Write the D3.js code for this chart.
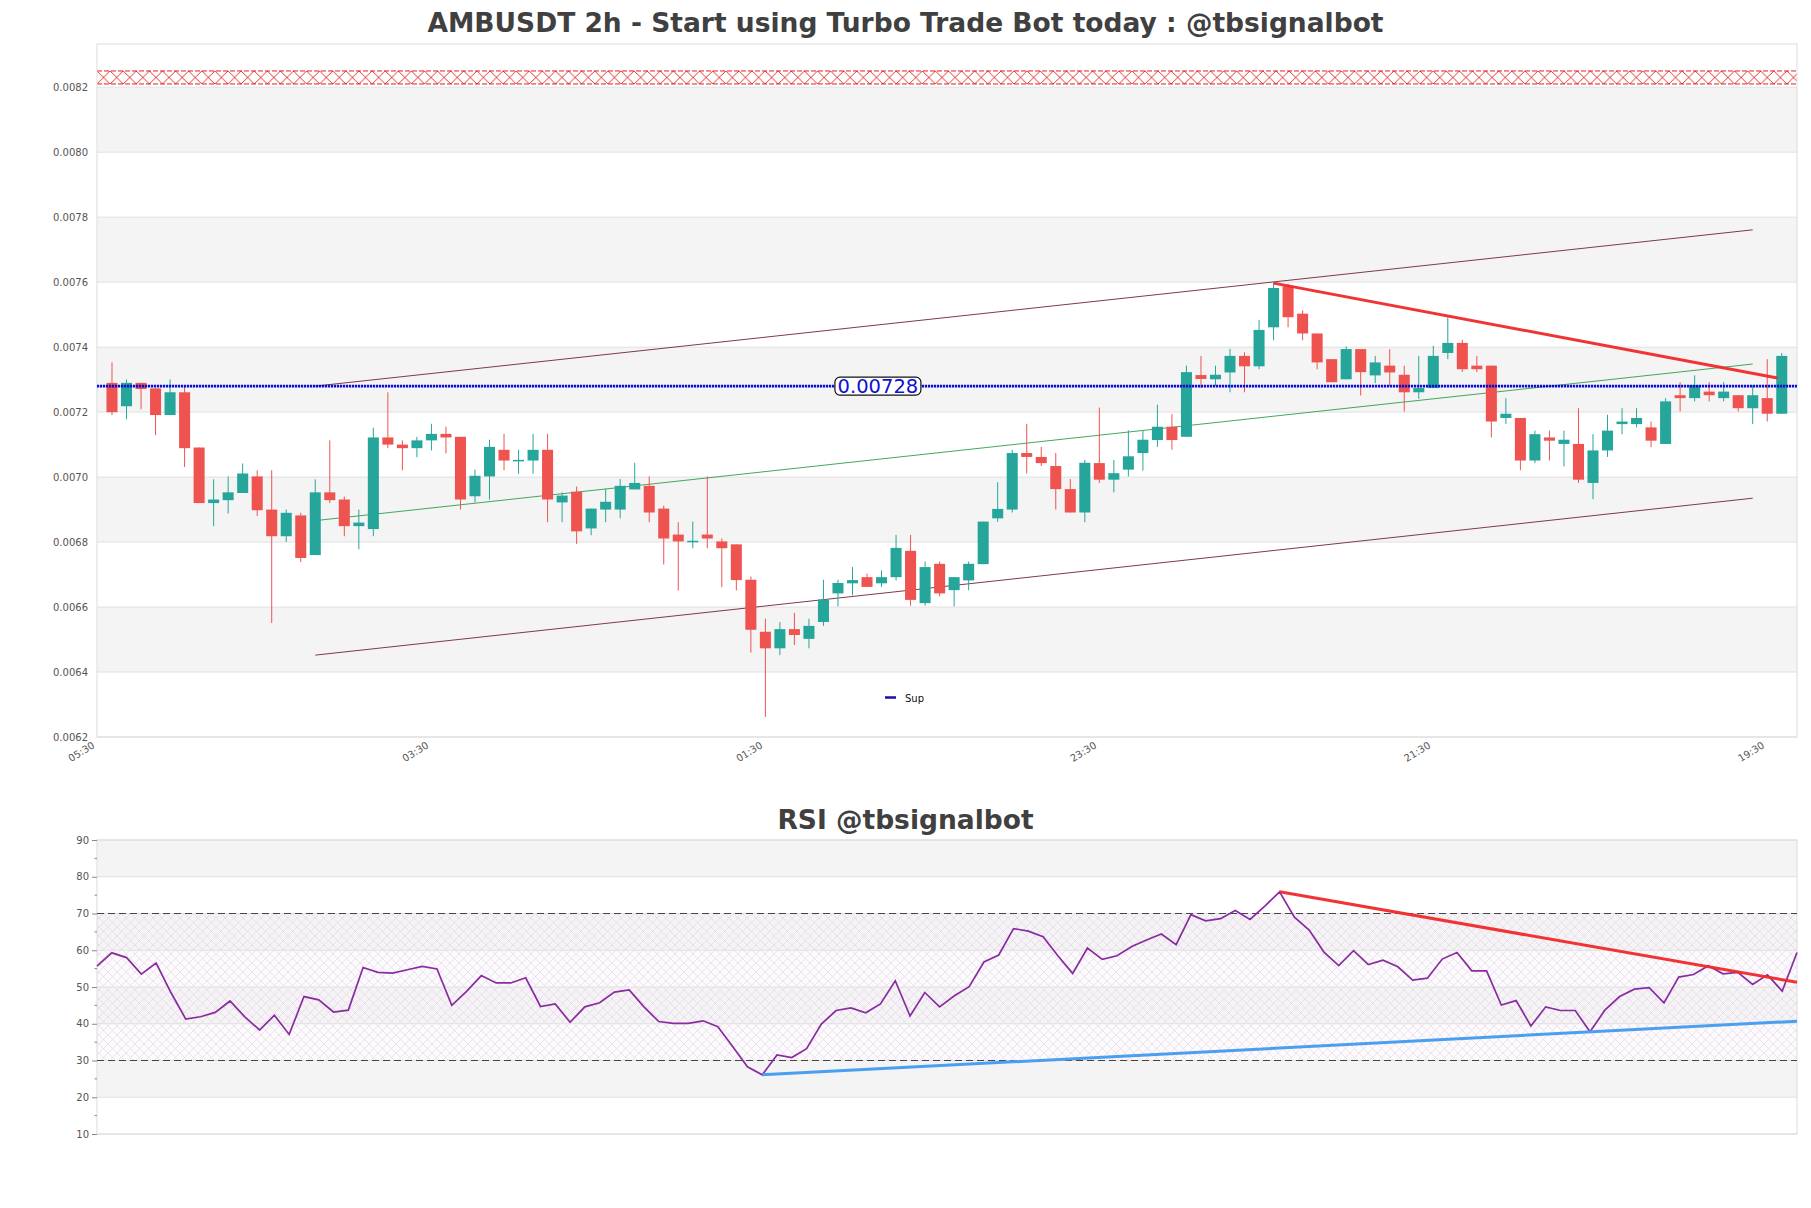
<!DOCTYPE html>
<html>
<head>
<meta charset="utf-8">
<script src="https://cdn.jsdelivr.net/npm/d3@7"></script>
<style>
  body { margin: 0; background: #ffffff; }
  svg text { font-family: "DejaVu Sans", sans-serif; }
</style>
</head>
<body>
<div id="chart"></div>
<script>
// ---- candle data (2h candles, oldest first) ----
var opens = [
  0.007290, 0.007218, 0.007290, 0.007273, 0.007191, 0.007261, 0.007091, 0.006920, 0.006929, 0.006951,
  0.007002, 0.006900, 0.006818, 0.006882, 0.006760, 0.006953, 0.006931, 0.006849, 0.006840, 0.007122,
  0.007100, 0.007089, 0.007113, 0.007133, 0.007124, 0.006941, 0.007002, 0.007084, 0.007051, 0.007051,
  0.007084, 0.006922, 0.006955, 0.006842, 0.006900, 0.006900, 0.006962, 0.006973, 0.006903, 0.006823,
  0.006802, 0.006823, 0.006802, 0.006793, 0.006684, 0.006524, 0.006473, 0.006532, 0.006502, 0.006554,
  0.006642, 0.006673, 0.006692, 0.006673, 0.006692, 0.006773, 0.006612, 0.006733, 0.006652, 0.006682,
  0.006732, 0.006873, 0.006900, 0.007074, 0.007062, 0.007034, 0.006963, 0.006891, 0.007043, 0.006992,
  0.007023, 0.007074, 0.007114, 0.007155, 0.007124, 0.007314, 0.007301, 0.007322, 0.007373, 0.007341,
  0.007461, 0.007587, 0.007503, 0.007442, 0.007363, 0.007301, 0.007394, 0.007313, 0.007343, 0.007315,
  0.007261, 0.007274, 0.007382, 0.007413, 0.007343, 0.007343, 0.007182, 0.007182, 0.007051, 0.007122,
  0.007102, 0.007102, 0.006982, 0.007082, 0.007163, 0.007163, 0.007153, 0.007102, 0.007252, 0.007243,
  0.007263, 0.007243, 0.007252, 0.007212, 0.007243, 0.007195];
var highs = [
  0.007353, 0.007300, 0.007290, 0.007273, 0.007300, 0.007280, 0.007091, 0.006993, 0.007002, 0.007042,
  0.007021, 0.007021, 0.006900, 0.006890, 0.006993, 0.007113, 0.006940, 0.006900, 0.007152, 0.007261,
  0.007113, 0.007124, 0.007164, 0.007155, 0.007124, 0.007023, 0.007115, 0.007133, 0.007084, 0.007133,
  0.007133, 0.006953, 0.006971, 0.006903, 0.006964, 0.006994, 0.007044, 0.007002, 0.006912, 0.006861,
  0.006863, 0.007002, 0.006811, 0.006793, 0.006694, 0.006564, 0.006554, 0.006582, 0.006564, 0.006684,
  0.006684, 0.006723, 0.006703, 0.006713, 0.006822, 0.006822, 0.006740, 0.006740, 0.006692, 0.006740,
  0.006863, 0.006984, 0.007084, 0.007164, 0.007093, 0.007074, 0.006994, 0.007053, 0.007214, 0.007053,
  0.007144, 0.007144, 0.007223, 0.007194, 0.007343, 0.007373, 0.007343, 0.007395, 0.007384, 0.007484,
  0.007597, 0.007595, 0.007513, 0.007442, 0.007363, 0.007402, 0.007394, 0.007373, 0.007394, 0.007343,
  0.007373, 0.007404, 0.007492, 0.007423, 0.007373, 0.007343, 0.007243, 0.007182, 0.007143, 0.007143,
  0.007143, 0.007212, 0.007132, 0.007192, 0.007212, 0.007212, 0.007171, 0.007243, 0.007292, 0.007313,
  0.007292, 0.007292, 0.007252, 0.007283, 0.007363, 0.007382];
var lows = [
  0.007191, 0.007178, 0.007209, 0.007129, 0.007191, 0.007031, 0.006920, 0.006849, 0.006888, 0.006951,
  0.006880, 0.006551, 0.006800, 0.006738, 0.006760, 0.006920, 0.006818, 0.006778, 0.006818, 0.007089,
  0.007021, 0.007061, 0.007082, 0.007073, 0.006900, 0.006922, 0.006931, 0.007021, 0.007010, 0.007010,
  0.006861, 0.006861, 0.006794, 0.006821, 0.006861, 0.006873, 0.006962, 0.006861, 0.006731, 0.006651,
  0.006781, 0.006781, 0.006661, 0.006651, 0.006460, 0.006262, 0.006452, 0.006483, 0.006473, 0.006542,
  0.006602, 0.006636, 0.006662, 0.006662, 0.006682, 0.006604, 0.006604, 0.006633, 0.006602, 0.006652,
  0.006732, 0.006862, 0.006891, 0.007011, 0.007034, 0.006900, 0.006891, 0.006861, 0.006982, 0.006953,
  0.007002, 0.007020, 0.007093, 0.007084, 0.007124, 0.007274, 0.007281, 0.007261, 0.007261, 0.007332,
  0.007421, 0.007461, 0.007421, 0.007332, 0.007292, 0.007301, 0.007251, 0.007289, 0.007281, 0.007202,
  0.007241, 0.007274, 0.007363, 0.007323, 0.007323, 0.007122, 0.007163, 0.007021, 0.007043, 0.007051,
  0.007033, 0.006982, 0.006932, 0.007062, 0.007132, 0.007153, 0.007092, 0.007102, 0.007202, 0.007233,
  0.007233, 0.007233, 0.007202, 0.007163, 0.007171, 0.007195];
var closes = [
  0.007200, 0.007290, 0.007271, 0.007191, 0.007261, 0.007089, 0.006920, 0.006931, 0.006953, 0.007011,
  0.006898, 0.006818, 0.006890, 0.006751, 0.006953, 0.006929, 0.006849, 0.006860, 0.007122, 0.007100,
  0.007089, 0.007113, 0.007133, 0.007122, 0.006931, 0.007004, 0.007093, 0.007051, 0.007053, 0.007084,
  0.006931, 0.006943, 0.006833, 0.006903, 0.006924, 0.006973, 0.006982, 0.006891, 0.006811, 0.006802,
  0.006804, 0.006811, 0.006781, 0.006683, 0.006530, 0.006473, 0.006532, 0.006514, 0.006542, 0.006623,
  0.006674, 0.006683, 0.006662, 0.006692, 0.006782, 0.006622, 0.006723, 0.006642, 0.006692, 0.006733,
  0.006863, 0.006902, 0.007074, 0.007062, 0.007043, 0.006963, 0.006891, 0.007044, 0.006992, 0.007012,
  0.007064, 0.007115, 0.007155, 0.007114, 0.007323, 0.007302, 0.007315, 0.007373, 0.007341, 0.007453,
  0.007582, 0.007492, 0.007442, 0.007353, 0.007292, 0.007394, 0.007323, 0.007353, 0.007322, 0.007261,
  0.007274, 0.007373, 0.007413, 0.007332, 0.007332, 0.007171, 0.007195, 0.007051, 0.007132, 0.007112,
  0.007115, 0.006992, 0.007082, 0.007143, 0.007171, 0.007182, 0.007112, 0.007233, 0.007243, 0.007283,
  0.007252, 0.007263, 0.007212, 0.007252, 0.007195, 0.007373];

// ---- axis ticks ----
var timeTickIndex = [-1, 22, 45, 68, 91, 114];
var timeTickLabels = ["05:30", "03:30", "01:30", "23:30", "21:30", "19:30"];
var priceTicks = [0.0062, 0.0064, 0.0066, 0.0068, 0.0070, 0.0072, 0.0074, 0.0076, 0.0078, 0.0080, 0.0082];
var rsiTicks = [10, 20, 30, 40, 50, 60, 70, 80, 90];
var rsiMinorTicks = [15, 25, 35, 45, 55, 65, 75, 85];

// ---- annotations on the price chart ----
var supLevel = 0.00728;
var resistZone = [0.00821, 0.00825];
var channelUpper = [[14, 0.007280], [113, 0.007761]];
var channelLower = [[14, 0.006452], [113, 0.006935]];
var channelMid = [[14, 0.006866], [113, 0.007348]];
var priceTrend = [[80, 0.007597], [114.7, 0.007305]];

// ---- RSI ----
var rsiValues = [
  55.7, 59.3, 58.0, 53.5, 56.5, 48.5, 41.3, 41.9, 43.1, 46.2,
  41.9, 38.3, 42.3, 37.1, 47.4, 46.5, 43.2, 43.7, 55.3, 54.0,
  53.8, 54.7, 55.6, 54.9, 45.0, 48.8, 53.1, 51.1, 51.1, 52.5,
  44.7, 45.4, 40.4, 44.6, 45.7, 48.6, 49.2, 44.6, 40.6, 40.1,
  40.1, 40.8, 39.2, 33.8, 28.3, 26.1, 31.5, 30.8, 33.2, 39.9,
  43.6, 44.3, 43.0, 45.4, 51.7, 42.1, 48.5, 44.6, 47.6, 50.1,
  56.8, 58.7, 65.9, 65.2, 63.7, 58.5, 53.7, 60.6, 57.5, 58.5,
  61.0, 62.8, 64.4, 61.5, 69.7, 68.0, 68.6, 70.8, 68.4, 72.0,
  75.9, 69.0, 65.5, 59.5, 55.8, 59.9, 56.1, 57.3, 55.5, 51.9,
  52.4, 57.6, 59.4, 54.4, 54.4, 45.1, 46.3, 39.4, 44.6, 43.6,
  43.6, 37.8, 43.7, 47.4, 49.4, 49.8, 45.7, 52.7, 53.4, 55.8,
  53.6, 54.0, 50.7, 53.3, 48.9, 59.4];
var rsiDown = [[80, 75.9], [115, 51.3]];
var rsiUp = [[45, 26.1], [115, 40.7]];

// ---- layout ----
var W = 1811, H = 1208;
var pm = {left: 97, right: 1797, top: 44, bottom: 737};   // price panel
var rm = {left: 97, right: 1797, top: 840, bottom: 1134}; // rsi panel
var upColor = "#26a69a", downColor = "#ef5350";

var svg = d3.select("#chart").append("svg")
  .attr("width", W)
  .attr("height", H);

var defs = svg.append("defs");

var x = d3.scaleLinear().domain([-1.033, 116.05]).range([pm.left, pm.right]);
var y = d3.scaleLinear().domain([0.0062, 0.008333]).range([pm.bottom, pm.top]);

// red cross hatch for the resistance zone
var zoneTop = y(resistZone[1]), zoneBot = y(resistZone[0]);
var zh = zoneBot - zoneTop;
var rp = defs.append("pattern")
  .attr("id", "redHatch")
  .attr("patternUnits", "userSpaceOnUse")
  .attr("x", pm.left).attr("y", zoneTop)
  .attr("width", 13.1).attr("height", zh);
rp.append("rect").attr("width", 13.1).attr("height", zh).attr("fill", "#ffffff");
rp.append("path")
  .attr("d", "M0,0L13.1," + zh + "M13.1,0L0," + zh)
  .attr("stroke", "#e02020").attr("stroke-width", 0.9).attr("fill", "none");

// pale hatch for the rsi 30-70 zone
var pp = defs.append("pattern")
  .attr("id", "rsiHatch")
  .attr("patternUnits", "userSpaceOnUse")
  .attr("width", 9).attr("height", 9);
pp.append("path")
  .attr("d", "M0,0L9,9M9,0L0,9")
  .attr("stroke", "#d6c9dc").attr("stroke-width", 0.6).attr("fill", "none")
  .attr("opacity", 0.75);

/* ---------------- price panel ---------------- */
var price = svg.append("g").attr("class", "price");

// alternating bands
for (var i = 0; i < priceTicks.length - 1; i++) {
  if (i % 2 == 1) {
    price.append("rect")
      .attr("x", pm.left)
      .attr("y", y(priceTicks[i + 1]))
      .attr("width", pm.right - pm.left)
      .attr("height", y(priceTicks[i]) - y(priceTicks[i + 1]))
      .attr("fill", "#f4f4f4");
  }
}
price.selectAll("line.grid")
  .data(priceTicks)
  .enter()
  .append("line")
  .attr("class", "grid")
  .attr("x1", pm.left).attr("x2", pm.right)
  .attr("y1", function(d) { return y(d); })
  .attr("y2", function(d) { return y(d); })
  .attr("stroke", "#e1e1e1").attr("stroke-width", 1);

// resistance zone
price.append("rect")
  .attr("x", pm.left).attr("y", zoneTop)
  .attr("width", pm.right - pm.left).attr("height", zh)
  .attr("fill", "url(#redHatch)");
price.append("path")
  .attr("d", "M" + pm.left + "," + zoneTop + "H" + pm.right + "M" + pm.left + "," + zoneBot + "H" + pm.right)
  .attr("stroke", "#e02020").attr("stroke-width", 1).attr("stroke-dasharray", "5,2");

// frame
price.append("rect")
  .attr("x", pm.left).attr("y", pm.top)
  .attr("width", pm.right - pm.left).attr("height", pm.bottom - pm.top)
  .attr("fill", "none").attr("stroke", "#dcdcdc").attr("stroke-width", 1);

var seg = d3.line()
  .x(function(d) { return x(d[0]); })
  .y(function(d) { return y(d[1]); });

// channel
price.append("path").attr("d", seg(channelUpper))
  .attr("stroke", "#7d3b4b").attr("stroke-width", 1).attr("fill", "none");
price.append("path").attr("d", seg(channelLower))
  .attr("stroke", "#7d3b4b").attr("stroke-width", 1).attr("fill", "none");
price.append("path").attr("d", seg(channelMid))
  .attr("stroke", "#2f9e48").attr("stroke-width", 0.9).attr("fill", "none");

// candles
var candles = opens.map(function(o, i) {
  return {i: i, o: o, h: highs[i], l: lows[i], c: closes[i]};
});
var bodyW = (x(1) - x(0)) * 0.76;
var cg = price.append("g").attr("class", "candles");
cg.selectAll("line.wick")
  .data(candles)
  .enter()
  .append("line")
  .attr("class", "wick")
  .attr("x1", function(d) { return x(d.i); })
  .attr("x2", function(d) { return x(d.i); })
  .attr("y1", function(d) { return y(d.h); })
  .attr("y2", function(d) { return y(d.l); })
  .attr("stroke", function(d) { return d.c >= d.o ? upColor : downColor; })
  .attr("stroke-width", 1);
cg.selectAll("rect.body")
  .data(candles)
  .enter()
  .append("rect")
  .attr("class", "body")
  .attr("x", function(d) { return x(d.i) - bodyW / 2; })
  .attr("y", function(d) { return y(Math.max(d.o, d.c)); })
  .attr("width", bodyW)
  .attr("height", function(d) { return Math.max(1.5, Math.abs(y(d.o) - y(d.c))); })
  .attr("fill", function(d) { return d.c >= d.o ? upColor : downColor; });

// support line
price.append("line")
  .attr("x1", pm.left).attr("x2", pm.right)
  .attr("y1", y(supLevel)).attr("y2", y(supLevel))
  .attr("stroke", "#0a0ad0").attr("stroke-width", 2.8)
  .attr("stroke-dasharray", "2.2,0.8");

// falling trend line
price.append("path").attr("d", seg(priceTrend))
  .attr("stroke", "#f02828").attr("stroke-width", 3).attr("fill", "none")
  .attr("opacity", 0.95);

// support label
var lx = x(52.75), ly = y(supLevel);
price.append("rect")
  .attr("x", lx - 43).attr("y", ly - 9)
  .attr("width", 86).attr("height", 18)
  .attr("rx", 5).attr("ry", 5)
  .attr("fill", "#ffffff").attr("stroke", "#111111").attr("stroke-width", 1.2);
price.append("text")
  .attr("x", lx).attr("y", ly + 7)
  .attr("text-anchor", "middle")
  .attr("font-size", "19.5px")
  .attr("fill", "#1010d0")
  .text(d3.format(".5f")(supLevel));

// legend
price.append("line")
  .attr("x1", 885).attr("x2", 896).attr("y1", 697.5).attr("y2", 697.5)
  .attr("stroke", "#1a0fa8").attr("stroke-width", 2.5);
price.append("text")
  .attr("x", 905).attr("y", 701.5)
  .attr("font-size", "10px").attr("fill", "#111")
  .text("Sup");

// y axis
var yAxis = d3.axisLeft(y).tickValues(priceTicks)
  .tickFormat(d3.format(".4f")).tickSize(0).tickPadding(9);
var yg = price.append("g")
  .attr("transform", "translate(" + pm.left + ",0)")
  .call(yAxis);
yg.select(".domain").remove();
yg.selectAll("text").attr("font-size", "10px").attr("fill", "#555")
  .attr("font-family", "\"DejaVu Sans\", sans-serif");

// x axis labels
price.selectAll("text.xlab")
  .data(timeTickIndex)
  .enter()
  .append("text")
  .attr("class", "xlab")
  .attr("transform", function(d) {
    return "translate(" + (x(d) - 2) + "," + (pm.bottom + 10) + ") rotate(-32)";
  })
  .attr("text-anchor", "end")
  .attr("font-size", "10px")
  .attr("fill", "#555")
  .text(function(d, i) { return timeTickLabels[i]; });

// title
svg.append("text")
  .attr("x", W / 2).attr("y", 32)
  .attr("text-anchor", "middle")
  .attr("font-size", "26.5px").attr("font-weight", "bold")
  .attr("fill", "#404040")
  .text("AMBUSDT 2h - Start using Turbo Trade Bot today : @tbsignalbot");

/* ---------------- rsi panel ---------------- */
var rx = d3.scaleLinear().domain([0, rsiValues.length - 1]).range([rm.left, rm.right]);
var ry = d3.scaleLinear().domain([10, 90]).range([rm.bottom, rm.top]);
var rsi = svg.append("g").attr("class", "rsi");

for (var j = 0; j < rsiTicks.length - 1; j++) {
  if (j % 2 == 1) {
    rsi.append("rect")
      .attr("x", rm.left).attr("y", ry(rsiTicks[j + 1]))
      .attr("width", rm.right - rm.left)
      .attr("height", ry(rsiTicks[j]) - ry(rsiTicks[j + 1]))
      .attr("fill", "#f4f4f4");
  }
}
// 30-70 zone
rsi.append("rect")
  .attr("x", rm.left).attr("y", ry(70))
  .attr("width", rm.right - rm.left).attr("height", ry(30) - ry(70))
  .attr("fill", "#f6f1f7").attr("opacity", 0.35);
rsi.append("rect")
  .attr("x", rm.left).attr("y", ry(70))
  .attr("width", rm.right - rm.left).attr("height", ry(30) - ry(70))
  .attr("fill", "url(#rsiHatch)");

rsi.selectAll("line.grid")
  .data(rsiTicks)
  .enter()
  .append("line")
  .attr("class", "grid")
  .attr("x1", rm.left).attr("x2", rm.right)
  .attr("y1", function(d) { return ry(d); })
  .attr("y2", function(d) { return ry(d); })
  .attr("stroke", "#e1e1e1").attr("stroke-width", 1);

rsi.append("rect")
  .attr("x", rm.left).attr("y", rm.top)
  .attr("width", rm.right - rm.left).attr("height", rm.bottom - rm.top)
  .attr("fill", "none").attr("stroke", "#dcdcdc").attr("stroke-width", 1);

// overbought / oversold
rsi.selectAll("line.level")
  .data([70, 30])
  .enter()
  .append("line")
  .attr("class", "level")
  .attr("x1", rm.left).attr("x2", rm.right)
  .attr("y1", function(d) { return ry(d); })
  .attr("y2", function(d) { return ry(d); })
  .attr("stroke", "#444").attr("stroke-width", 1.1)
  .attr("stroke-dasharray", "7,4");

var rline = d3.line()
  .x(function(d, i) { return rx(i); })
  .y(function(d) { return ry(d); });
rsi.append("path")
  .attr("d", rline(rsiValues))
  .attr("fill", "none").attr("stroke", "#8a2ba0").attr("stroke-width", 1.7);

var rseg = d3.line()
  .x(function(d) { return rx(d[0]); })
  .y(function(d) { return ry(d[1]); });
rsi.append("path").attr("d", rseg(rsiDown))
  .attr("stroke", "#f02828").attr("stroke-width", 3).attr("fill", "none").attr("opacity", 0.95);
rsi.append("path").attr("d", rseg(rsiUp))
  .attr("stroke", "#4a9ff0").attr("stroke-width", 3).attr("fill", "none");

// rsi axis
var ryAxis = d3.axisLeft(ry).tickValues(rsiTicks).tickSize(5).tickPadding(3);
var ryg = rsi.append("g")
  .attr("transform", "translate(" + rm.left + ",0)")
  .call(ryAxis);
ryg.select(".domain").remove();
ryg.selectAll("line").attr("stroke", "#888");
ryg.selectAll("text").attr("font-size", "10px").attr("fill", "#555")
  .attr("font-family", "\"DejaVu Sans\", sans-serif");
rsi.selectAll("line.minor")
  .data(rsiMinorTicks)
  .enter()
  .append("line")
  .attr("class", "minor")
  .attr("x1", rm.left - 2.5).attr("x2", rm.left)
  .attr("y1", function(d) { return ry(d); })
  .attr("y2", function(d) { return ry(d); })
  .attr("stroke", "#888");

svg.append("text")
  .attr("x", W / 2).attr("y", 829)
  .attr("text-anchor", "middle")
  .attr("font-size", "26.5px").attr("font-weight", "bold")
  .attr("fill", "#404040")
  .text("RSI @tbsignalbot");
</script>
</body>
</html>
